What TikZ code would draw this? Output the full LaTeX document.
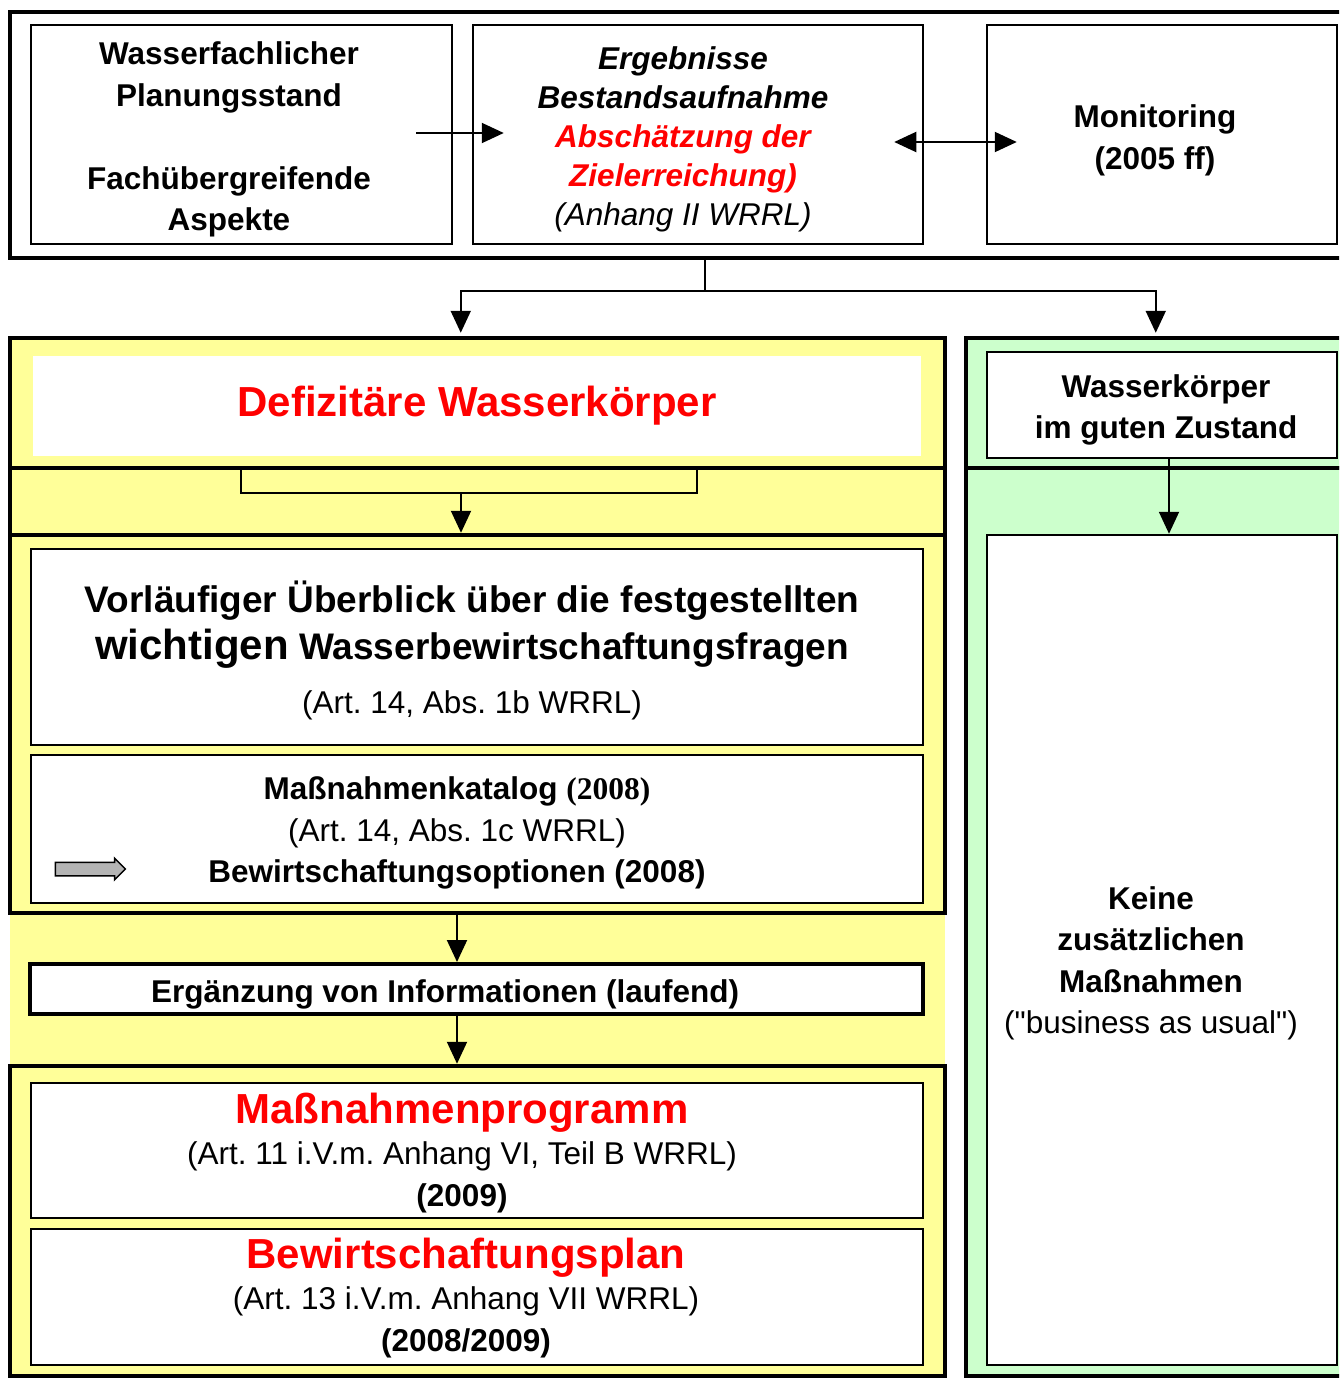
\documentclass[tikz,border=0pt]{standalone}
\usepackage{fontspec}
\setmainfont{Liberation Sans}
\newfontfamily\yearfont{Liberation Serif}
\usetikzlibrary{arrows.meta,calc,positioning,shapes.arrows}
\definecolor{PaleYellow}{HTML}{FFFF99}
\definecolor{PaleGreen}{HTML}{CCFFCC}
\definecolor{AlertRed}{HTML}{FF0000}
\definecolor{ArrowGrey}{HTML}{B4B4B4}
\AtBeginDocument{\frenchspacing}

\tikzset{
  panel/.style={draw,line width=4.5pt,inner sep=0pt},
  box/.style={draw,line width=2.5pt,fill=white,inner sep=0pt,align=center},
  body/.style={font=\fontsize{31.5}{41.5}\selectfont\bfseries,align=center},
  flow/.style={line width=2pt,-{Triangle[length=22pt,width=20pt]}},
  flowboth/.style={line width=2pt,{Triangle[length=22pt,width=20pt]}-{Triangle[length=22pt,width=20pt]}},
}

\begin{document}
\begin{tikzpicture}[x=1pt,y=-1pt]
\useasboundingbox (0,0) rectangle (1339,1378);
\clip (0,0) rectangle (1339,1378);

% top row
\node[panel,minimum width=1345pt,minimum height=246pt] (top) at (682.5,135) {};
\node[box,minimum width=421pt,minimum height=219pt] (plan) at (241.5,134.5) {};
\node[body] (plantext) at (229,139.5)
  {Wasserfachlicher\\Planungsstand\\[41.5pt]Fachübergreifende\\Aspekte};
\node[box,minimum width=450pt,minimum height=219pt] (bestand) at (698,134.5) {};
\node[body,font=\fontsize{31.5}{39}\selectfont\bfseries\itshape] (bestandtext) at (683,139.5)
  {Ergebnisse\\Bestandsaufnahme\\\textcolor{AlertRed}{Abschätzung der}\\\textcolor{AlertRed}{Zielerreichung)}\\\mdseries(Anhang II WRRL)};
\node[box,minimum width=350pt,minimum height=219pt] (monitor) at (1162,134.5) {};
\node[body] (monitortext) at (1155,140.5) {Monitoring\\(2005 ff)};

\draw[flow] ($(plan.east)+(-37,-1.5)$) -- ($(bestand.west)+(32,-1.5)$);
\draw[flowboth] ($(bestand.east)+(-30,7.5)$) -- ($(monitor.west)+(31,7.5)$);

% left column
\node[fill=PaleYellow,inner sep=0pt,minimum width=935pt,minimum height=153pt] (infoband) at (477.5,989.5) {};
\node[panel,fill=PaleYellow,minimum width=935pt,minimum height=130pt] (defsec) at (477.5,403) {};
\node[fill=white,inner sep=0pt,minimum width=888pt,minimum height=100pt,text=AlertRed,
  font=\fontsize{42}{50}\selectfont\bfseries] (defizit) at (477,406) {Defizitäre Wasserkörper};
\node[panel,fill=PaleYellow,minimum width=935pt,minimum height=67pt] (defgap) at (477.5,501.5) {};
\node[panel,fill=PaleYellow,minimum width=935pt,minimum height=378pt] (issuesec) at (477.5,724) {};
\node[box,minimum width=892pt,minimum height=196pt] (overview) at (477,647) {};
\node[align=center,font=\fontsize{37}{47}\selectfont\bfseries] (overviewtext) at (472,650)
  {Vorläufiger Überblick über die festgestellten\\
   {\fontsize{42}{47}\selectfont wichtigen} Wasserbewirtschaftungsfragen\\[7pt]
   \fontsize{31.5}{41.5}\selectfont\mdseries (Art. 14, Abs. 1b WRRL)};
\node[box,minimum width=892pt,minimum height=148pt] (katalog) at (477,829) {};
\node[body] (katalogtext) at (457,833)
  {Maßnahmenkatalog {\yearfont(2008)}\\\mdseries(Art. 14, Abs. 1c WRRL)\\\bfseries Bewirtschaftungsoptionen (2008)};
\node[single arrow,draw,fill=ArrowGrey,line width=1.5pt,inner sep=6pt,minimum height=70pt,
  single arrow head extend=4pt] (optarrow) at (87,869) {};
\node[box,line width=4pt,minimum width=893pt,minimum height=50pt] (ergaenzung) at (476.5,989) {};
\node[body] (ergtext) at (445,994) {Ergänzung von Informationen (laufend)};
\node[panel,fill=PaleYellow,minimum width=935pt,minimum height=310pt] (plansec) at (477.5,1221) {};
\node[box,minimum width=892pt,minimum height=135pt] (programm) at (477,1150.5) {};
\node[body,font=\fontsize{31.5}{41.5}\selectfont] (programmtext) at (462,1153)
  {\textcolor{AlertRed}{\fontsize{42}{41.5}\selectfont\bfseries Maßnahmenprogramm}\\(Art. 11 i.V.m. Anhang VI, Teil B WRRL)\\\bfseries(2009)};
\node[box,minimum width=892pt,minimum height=136pt] (bwplan) at (477,1297) {};
\node[body,font=\fontsize{31.5}{41.5}\selectfont] (bwplantext) at (466,1298)
  {\textcolor{AlertRed}{\fontsize{42}{41.5}\selectfont\bfseries Bewirtschaftungsplan}\\(Art. 13 i.V.m. Anhang VII WRRL)\\\bfseries(2008/2009)};

% right column
\node[panel,fill=PaleGreen,minimum width=379pt,minimum height=130pt] (goodsec) at (1155.5,403) {};
\node[box,minimum width=350pt,minimum height=106pt] (good) at (1162,405) {};
\node[body] (goodtext) at (1166,410) {Wasserkörper\\im guten Zustand};
\node[panel,fill=PaleGreen,minimum width=379pt,minimum height=908pt] (restsec) at (1155.5,922) {};
\node[box,minimum width=350pt,minimum height=830pt] (keine) at (1162,950) {};
\node[body] (keinetext) at (1151,963.5) {Keine\\zusätzlichen\\Maßnahmen\\\mdseries(\textquotedbl business as usual\textquotedbl)};

% connectors
\coordinate (fork) at (705,291);
\draw[line width=1.5pt] (fork |- top.south) -- (fork);
\draw[flow] (fork) -| ($(defsec.north west)+(453,-3)$);
\draw[flow] (fork) -| ($(goodsec.north west)+(192,-3)$);
\coordinate (brL) at (241,470);
\coordinate (brR) at (697,470);
\coordinate (brM) at (461,493);
\draw[line width=2pt] (brL) |- (brR |- brM) -- (brR);
\draw[flow] (brM) -- (brM |- issuesec.north);
\coordinate (axis) at (457,0);
\draw[flow] (axis |- issuesec.south) -- (axis |- ergaenzung.north);
\draw[flow] (axis |- ergaenzung.south) -- (axis |- plansec.north);
\draw[flow] ($(good.south)+(7,0)$) -- ($(keine.north)+(7,0)$);
\end{tikzpicture}
\end{document}
